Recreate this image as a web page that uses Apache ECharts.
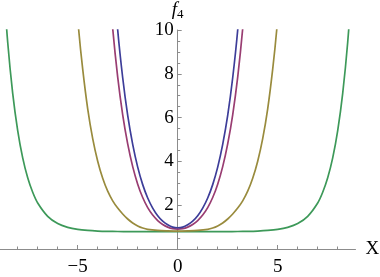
<!DOCTYPE html>
<html>
<head>
<meta charset="utf-8">
<script src="https://cdn.jsdelivr.net/npm/echarts@6/dist/echarts.min.js"></script>
<style>
html,body{margin:0;padding:0;background:#fff;}
#c{width:380px;height:277px;}
</style>
</head>
<body>
<div id="c"></div>
<script>
// values (right half; curves are mirrored about x = 0)
const blueX   = [0, 0.25, 0.5, 0.75, 1.0, 1.25, 1.5, 1.75, 2.0, 2.25, 2.5, 2.75, 3.0, 3.25];
const blueY   = [0.97, 1.0, 1.11, 1.27, 1.52, 1.87, 2.33, 2.94, 3.74, 4.78, 6.1, 7.82, 10.0, 12.9];
const purpleX = [0, 0.25, 0.5, 0.75, 1.0, 1.25, 1.5, 1.75, 2.0, 2.25, 2.5, 2.75, 3.0, 3.25, 3.5];
const purpleY = [0.91, 0.93, 1.0, 1.12, 1.3, 1.55, 1.89, 2.35, 2.96, 3.76, 4.8, 6.13, 7.85, 10.07, 12.9];
const goldX   = [0, 0.5, 1.0, 1.5, 1.75, 2.0, 2.25, 2.5, 2.75, 3.0, 3.25, 3.5, 3.75, 4.0, 4.25, 4.5, 4.75, 4.95, 5.15];
const goldY   = [0.82, 0.83, 0.85, 0.9, 0.96, 1.055, 1.19, 1.37, 1.6, 1.87, 2.2, 2.64, 3.23, 4.01, 5.04, 6.4, 8.21, 10.0, 12.3];
const greenX  = [0, 1.0, 2.0, 3.0, 3.5, 4.0, 4.5, 5.0, 5.5, 6.0, 6.5, 7.0, 7.25, 7.5, 7.75, 8.0, 8.25, 8.5, 8.75];
const greenY  = [0.79, 0.79, 0.79, 0.8, 0.806, 0.82, 0.847, 0.895, 0.988, 1.16, 1.49, 2.1, 2.59, 3.25, 4.16, 5.41, 7.11, 9.44, 12.6];

const xMajorTicks = [-5, 0, 5];
const xMinorTicks = [-8, -7, -6, -4, -3, -2, -1, 1, 2, 3, 4, 6, 7, 8];
const yTickLabels = [2, 4, 6, 8, 10];

// mirror the right-half readings to both sides of the y axis
const mirrored = (xs, ys) => {
  const left = xs.slice(1).map((x, i) => [-x, ys[i + 1]]).reverse();
  const right = xs.map((x, i) => [x, ys[i]]);
  return left.concat(right);
};
const serif = 'Liberation Serif';
const axisGray = '#8c8c8c';
const xMin = -8.885, xMax = 8.89;
const gridLeft = 0, gridRight = 24.5;

const chart = echarts.init(document.getElementById('c'), null, {renderer: 'canvas'});
// place the y axis on x = 0 of the x scale
const plotW = 380 - gridLeft - gridRight;
const yAxisShift = plotW * (0 - xMin) / (xMax - xMin);

chart.setOption({
  animation: false,
  backgroundColor: '#fff',
  grid: {left: gridLeft, right: gridRight, top: 30, bottom: 28, containLabel: false, outerBoundsMode: 'none'},
  xAxis: [{
    type: 'value', min: xMin, max: xMax,
    name: 'X', nameLocation: 'end', nameGap: 10,
    nameTextStyle: {fontFamily: serif, fontSize: 19, color: '#000', verticalAlign: 'middle'},
    axisLine: {show: true, onZero: false, lineStyle: {color: axisGray, width: 1}},
    axisTick: {show: true, inside: true, length: 4, customValues: xMajorTicks, lineStyle: {color: axisGray}},
    axisLabel: {show: true, customValues: xMajorTicks, margin: 9, fontFamily: serif, fontSize: 19, color: '#000',
      formatter: v => (v < 0 ? '\u2212' + Math.abs(v) : String(v))},
    splitLine: {show: false}
  }, {
    type: 'value', min: xMin, max: xMax, position: 'bottom',
    axisLine: {show: false},
    axisTick: {show: true, inside: true, length: 2.5, customValues: xMinorTicks, lineStyle: {color: axisGray}},
    axisLabel: {show: false},
    splitLine: {show: false}
  }],
  yAxis: {
    type: 'value', min: 0, max: 10, interval: 2, position: 'left', offset: -yAxisShift,
    name: '{f|f}{s|4}', nameLocation: 'end', nameGap: 6,
    nameTextStyle: {
      color: '#000',
      rich: {
        f: {fontFamily: serif, fontStyle: 'italic', fontSize: 19, color: '#000'},
        s: {fontFamily: serif, fontSize: 13, color: '#000', padding: [8, 0, 0, 0]}
      }
    },
    axisLine: {show: true, onZero: false, lineStyle: {color: axisGray, width: 1}},
    axisTick: {show: true, inside: true, length: 4, lineStyle: {color: axisGray}},
    minorTick: {show: true, splitNumber: 4, length: 2.5, lineStyle: {color: axisGray}},
    axisLabel: {show: true, margin: 4, customValues: yTickLabels, fontFamily: serif, fontSize: 19, color: '#000'},
    splitLine: {show: false},
    minorSplitLine: {show: false}
  },
  series: [
    {type: 'line', data: mirrored(greenX, greenY), smooth: 0.3, showSymbol: false, clip: true,
      lineStyle: {color: '#3d9959', width: 1.7}},
    {type: 'line', data: mirrored(goldX, goldY), smooth: 0.3, showSymbol: false, clip: true,
      lineStyle: {color: '#998b3d', width: 1.7}},
    {type: 'line', data: mirrored(purpleX, purpleY), smooth: 0.3, showSymbol: false, clip: true,
      lineStyle: {color: '#993d72', width: 1.7}},
    {type: 'line', data: mirrored(blueX, blueY), smooth: 0.3, showSymbol: false, clip: true,
      lineStyle: {color: '#3d3d99', width: 1.7}}
  ]
});
</script>
</body>
</html>
